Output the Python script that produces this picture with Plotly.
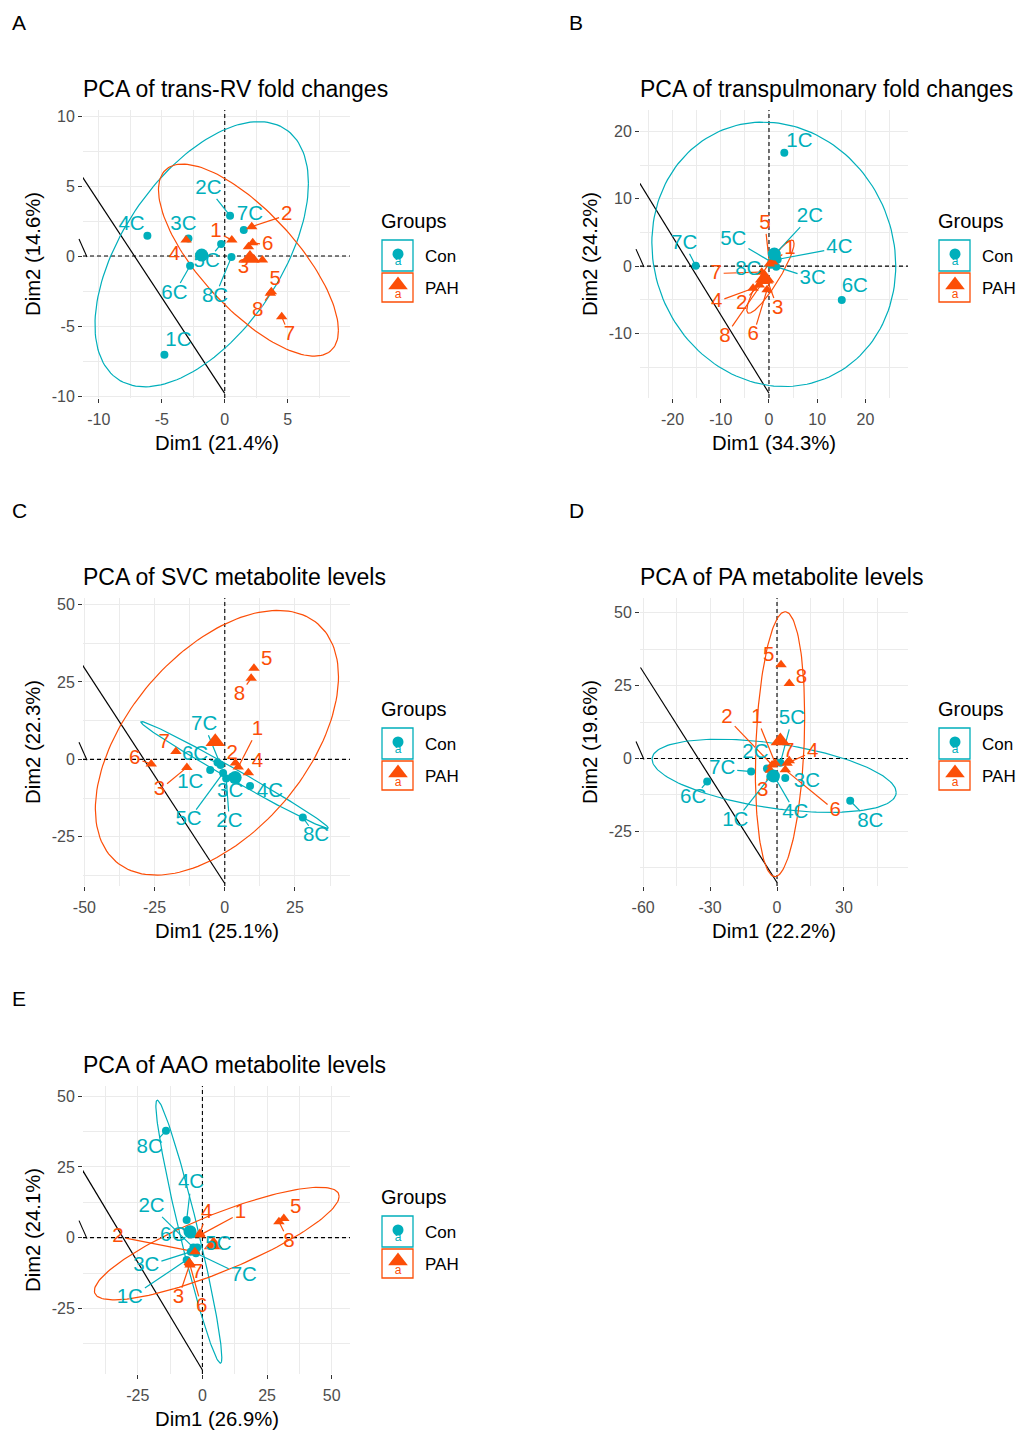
import math
import numpy as np
import plotly.graph_objects as go

W, H = 1025, 1435          # target screen size
SHIFT = 8                  # page body margin: figure starts at (8, 8) on screen
FW = W - SHIFT
FH = H - SHIFT
TEAL = "#00AFBB"
ORANGE = "#FC4E07"
FONT = "Liberation Sans, Arial, sans-serif"
LAB_FS = 20.5

# ------------------------------------------------------------------ data
GROUPS = ["Con", "PAH"]
CON_LAB = ["1C", "2C", "3C", "4C", "5C", "6C", "7C", "8C"]
PAH_LAB = ["1", "2", "3", "4", "5", "6", "7", "8"]

# ---- A: trans-RV fold changes
A_title = "PCA of trans-RV fold changes"
A_dims = ["Dim1 (21.4%)", "Dim2 (14.6%)"]
A_con_x = [-4.79, 0.42, -2.88, -6.14, -0.29, -2.75, 1.51, 0.53]
A_con_y = [-7.05, 2.88, 1.26, 1.45, 0.86, -0.69, 1.86, -0.07]
A_con_lx = [-3.68, -1.30, -3.28, -7.40, -1.43, -4.00, 2.00, -0.77]
A_con_ly = [-6.05, 4.83, 2.26, 2.20, -0.40, -2.67, 2.93, -2.90]
A_pah_x = [0.56, 2.14, 1.85, -3.07, 3.70, 2.22, 4.52, 3.62]
A_pah_y = [1.14, 2.10, -0.15, 1.14, -2.55, 0.95, -4.33, -2.65]
A_pah_lx = [-0.69, 4.92, 1.48, -4.00, 4.00, 3.41, 5.13, 2.62]
A_pah_ly = [1.74, 2.93, -0.88, 0.07, -1.67, 0.79, -5.64, -3.93]
A_extra_x = [1.88, 2.99, 2.30]
A_extra_y = [0.67, -0.29, -0.20]
A_mean_x = [-1.83, 2.00]
A_mean_y = [0.07, -0.17]
A_ell_con = [-1.83, 0.13, 8.47, 9.47, 57.7]
A_ell_pah = [1.88, -0.29, 7.14, 6.86, 137.0]
A_line_x = [-11.48, 0.0]
A_line_y = [5.90, -9.81]

# ---- B: transpulmonary fold changes
B_title = "PCA of transpulmonary fold changes"
B_dims = ["Dim1 (34.3%)", "Dim2 (24.2%)"]
B_con_x = [3.18, 1.40, 1.50, 1.80, 0.50, 15.10, -15.20, 0.40]
B_con_y = [16.83, 1.90, -0.10, 1.00, 0.60, -5.05, 0.05, 0.20]
B_con_lx = [6.30, 8.50, 9.06, 14.60, -7.40, 17.80, -17.60, -4.30]
B_con_ly = [18.50, 7.33, -1.83, 2.72, 3.96, -3.07, 3.37, -0.60]
B_pah_x = [0.80, -2.00, -0.30, -3.30, 0.10, -0.40, -1.50, -1.20]
B_pah_y = [0.60, -2.80, -2.20, -3.30, 0.30, -3.50, -0.90, -2.30]
B_pah_lx = [4.36, -5.67, 1.80, -10.86, -0.83, -3.25, -11.00, -9.13]
B_pah_ly = [2.62, -5.54, -6.29, -5.30, 6.34, -10.25, -1.09, -10.50]
B_extra_x = []
B_extra_y = []
B_mean_x = [1.10, -0.90]
B_mean_y = [1.80, -1.80]
B_ell_con = [1.00, 1.75, 25.30, 19.65, 95.0]
B_ell_pah = [0.30, -1.57, 4.90, 5.43, 25.0]
B_line_x = [-26.8, 0.0]
B_line_y = [12.3, -18.9]

# ---- C: SVC metabolite levels
C_title = "PCA of SVC metabolite levels"
C_dims = ["Dim1 (25.1%)", "Dim2 (22.3%)"]
C_con_x = [-5.20, 0.50, 2.60, 9.00, -0.60, -2.60, -1.50, 27.80]
C_con_y = [-3.45, -6.20, -5.60, -8.60, -4.40, -1.00, -1.80, -18.75]
C_con_lx = [-12.3, 1.66, 1.90, 16.10, -12.90, -10.60, -7.35, 32.50]
C_con_ly = [-7.76, -20.20, -10.50, -10.50, -19.60, 1.40, 11.10, -24.80]
C_pah_x = [4.80, 3.80, -13.50, 8.40, 10.40, -26.20, -17.40, 9.40]
C_pah_y = [-2.50, -1.20, -2.60, -4.30, 29.40, -1.50, 2.50, 26.20]
C_pah_lx = [11.60, 2.60, -23.30, 11.60, 14.90, -32.10, -21.60, 5.20]
C_pah_ly = [9.50, 1.90, -9.90, -0.75, 32.10, 0.30, 5.20, 20.80]
C_extra_x = []
C_extra_y = []
C_mean_x = [3.70, -3.40]
C_mean_y = [-5.90, 5.70]
C_ell_con = [3.50, -5.05, 33.40, 17.25, 173.0]
C_ell_pah = [-2.80, 5.35, 43.30, 42.75, 60.0]
C_line_x = [-51.5, 0.0]
C_line_y = [31.6, -40.1]

# ---- D: PA metabolite levels
D_title = "PCA of PA metabolite levels"
D_dims = ["Dim1 (22.2%)", "Dim2 (19.6%)"]
D_con_x = [-3.00, -4.50, 3.70, -0.80, 1.50, -31.30, -11.60, 32.80]
D_con_y = [-6.20, -3.40, -6.70, -6.70, -1.50, -7.90, -4.50, -14.50]
D_con_lx = [-18.70, -9.70, 13.40, 8.20, 6.70, -37.60, -24.60, 41.80]
D_con_ly = [-21.30, 2.05, -7.90, -18.50, 13.50, -13.60, -3.65, -21.60]
D_pah_x = [-0.80, -2.20, -3.00, 4.50, 1.80, 3.70, 5.50, 5.50]
D_pah_y = [-1.60, -2.20, -4.00, -1.60, 32.10, -3.90, -0.80, 25.70]
D_pah_lx = [-9.00, -22.40, -6.40, 16.00, -3.70, 26.10, 5.20, 10.90]
D_pah_ly = [13.80, 13.80, -11.10, 2.30, 35.20, -17.90, 2.30, 27.50]
D_extra_x = []
D_extra_y = []
D_mean_x = [-1.60, 1.50]
D_mean_y = [-6.00, 6.00]
D_ell_con = [-1.30, -5.95, 54.70, 12.55, 117.0]
D_ell_pah = [1.35, 4.90, 11.05, 45.40, 78.0]
D_line_x = [-61.2, 0.0]
D_line_y = [31.2, -42.5]

# ---- E: AAO metabolite levels
E_title = "PCA of AAO metabolite levels"
E_dims = ["Dim1 (26.9%)", "Dim2 (24.1%)"]
E_con_x = [-6.10, -3.50, -4.50, -6.10, -2.00, -3.80, -2.50, -14.10]
E_con_y = [-7.90, -3.50, -5.00, 6.20, -3.50, 1.20, -5.50, 37.80]
E_con_lx = [-28.10, -19.70, -21.70, -4.40, 6.20, -11.30, 16.00, -20.40]
E_con_ly = [-21.40, 11.00, -10.00, 19.20, -2.40, 0.60, -13.50, 31.60]
E_pah_x = [-0.90, -2.90, -4.80, -1.00, 31.50, -4.80, -5.10, 29.60]
E_pah_y = [0.90, -5.00, -9.10, 1.50, 6.80, -9.70, -8.80, 5.65]
E_pah_lx = [14.70, -32.70, -9.30, 1.70, 36.10, -0.30, -1.90, 33.50]
E_pah_ly = [8.60, 0.35, -21.40, 8.60, 10.40, -24.40, -12.60, -1.40]
E_extra_x = []
E_extra_y = []
E_mean_x = [-4.80, 4.30]
E_mean_y = [2.10, -2.60]
E_ell_con = [-5.25, 2.10, 12.75, 46.50, 163.0]
E_ell_pah = [5.55, -2.10, 47.35, 19.90, 33.0]
E_line_x = [-47.6, 0.0]
E_line_y = [25.7, -46.8]

# ------------------------------------------------------------------ geometry (screen pixel layout)
PANELS = [
    dict(letter="A", title=A_title, dims=A_dims,
         con=(A_con_x, A_con_y, A_con_lx, A_con_ly), pah=(A_pah_x, A_pah_y, A_pah_lx, A_pah_ly),
         extra=(A_extra_x, A_extra_y), mean=(A_mean_x, A_mean_y), ell=(A_ell_con, A_ell_pah),
         line=(A_line_x, A_line_y),
         box=(83, 350, 110, 398), xr=(-11.25, 9.94), yr=(-10.14, 10.43),
         xt=[-10, -5, 0, 5], yt=[-10, -5, 0, 5, 10],
         xm=[-7.5, -2.5, 2.5, 7.5], ym=[-7.5, -2.5, 2.5, 7.5], off=(0, 0)),
    dict(letter="B", title=B_title, dims=B_dims,
         con=(B_con_x, B_con_y, B_con_lx, B_con_ly), pah=(B_pah_x, B_pah_y, B_pah_lx, B_pah_ly),
         extra=(B_extra_x, B_extra_y), mean=(B_mean_x, B_mean_y), ell=(B_ell_con, B_ell_pah),
         line=(B_line_x, B_line_y),
         box=(640, 908, 110, 398), xr=(-26.76, 28.84), yr=(-19.6, 23.2),
         xt=[-20, -10, 0, 10, 20], yt=[-10, 0, 10, 20],
         xm=[-25, -15, -5, 5, 15, 25], ym=[-15, -5, 5, 15], off=(557, 0)),
    dict(letter="C", title=C_title, dims=C_dims,
         con=(C_con_x, C_con_y, C_con_lx, C_con_ly), pah=(C_pah_x, C_pah_y, C_pah_lx, C_pah_ly),
         extra=(C_extra_x, C_extra_y), mean=(C_mean_x, C_mean_y), ell=(C_ell_con, C_ell_pah),
         line=(C_line_x, C_line_y),
         box=(83, 350, 598, 886), xr=(-50.5, 44.6), yr=(-40.9, 52.1),
         xt=[-50, -25, 0, 25], yt=[-25, 0, 25, 50],
         xm=[-37.5, -12.5, 12.5, 37.5], ym=[-37.5, -12.5, 12.5, 37.5], off=(0, 488)),
    dict(letter="D", title=D_title, dims=D_dims,
         con=(D_con_x, D_con_y, D_con_lx, D_con_ly), pah=(D_pah_x, D_pah_y, D_pah_lx, D_pah_ly),
         extra=(D_extra_x, D_extra_y), mean=(D_mean_x, D_mean_y), ell=(D_ell_con, D_ell_pah),
         line=(D_line_x, D_line_y),
         box=(640, 908, 598, 886), xr=(-61.4, 58.7), yr=(-43.7, 55.0),
         xt=[-60, -30, 0, 30], yt=[-25, 0, 25, 50],
         xm=[-45, -15, 15, 45], ym=[-37.5, -12.5, 12.5, 37.5], off=(557, 488)),
    dict(letter="E", title=E_title, dims=E_dims,
         con=(E_con_x, E_con_y, E_con_lx, E_con_ly), pah=(E_pah_x, E_pah_y, E_pah_lx, E_pah_ly),
         extra=(E_extra_x, E_extra_y), mean=(E_mean_x, E_mean_y), ell=(E_ell_con, E_ell_pah),
         line=(E_line_x, E_line_y),
         box=(83, 350, 1086, 1374), xr=(-46.2, 57.1), yr=(-48.2, 53.6),
         xt=[-25, 0, 25, 50], yt=[-25, 0, 25, 50],
         xm=[-37.5, -12.5, 12.5, 37.5], ym=[-37.5, -12.5, 12.5, 37.5], off=(0, 976)),
]


def to_px(p, x, y):
    l, r, t, b = p["box"]
    x0, x1 = p["xr"]
    y0, y1 = p["yr"]
    return l + (x - x0) / (x1 - x0) * (r - l), b - (y - y0) / (y1 - y0) * (b - t)


def to_data(p, px, py):
    l, r, t, b = p["box"]
    x0, x1 = p["xr"]
    y0, y1 = p["yr"]
    return x0 + (px - l) / (r - l) * (x1 - x0), y0 + (b - py) / (b - t) * (y1 - y0)


def text_w(s, fs):
    return sum(0.722 if c == "C" else 0.556 for c in s) * fs


def ellipse(c):
    cx, cy, rx, ry, phi = c
    t = np.linspace(0, 2 * np.pi, 161)
    return cx + rx * np.cos(t), cy + ry * np.cos(t - np.radians(phi))


def repel_segments(p, labs, xs, ys, lxs, lys):
    sx, sy = [], []
    for lab, x, y, lx, ly in zip(labs, xs, ys, lxs, lys):
        Px, Py = to_px(p, x, y)
        Lx, Ly = to_px(p, lx, ly)
        hw = text_w(lab, LAB_FS) / 2 + 2
        hh = 0.72 * LAB_FS / 2 + 3
        dx, dy = Px - Lx, Py - Ly
        if abs(dx) <= hw and abs(dy) <= hh:
            continue
        t = min(hw / abs(dx) if dx else 1e9, hh / abs(dy) if dy else 1e9)
        Ex, Ey = Lx + dx * t, Ly + dy * t
        d = math.hypot(Px - Ex, Py - Ey)
        if d < 7:
            continue
        k = (d - 2) / d
        Qx, Qy = Ex + (Px - Ex) * k, Ey + (Py - Ey) * k
        a = to_data(p, Ex, Ey)
        b = to_data(p, Qx, Qy)
        sx += [a[0], b[0], None]
        sy += [a[1], b[1], None]
    return sx, sy


fig = go.Figure()
layout_axes = {}
shapes = []
annotations = []

for i, p in enumerate(PANELS):
    xa = "x" if i == 0 else f"x{i + 1}"
    ya = "y" if i == 0 else f"y{i + 1}"
    l, r, t, b = p["box"]
    common = dict(showgrid=True, gridcolor="#EBEBEB", gridwidth=1.1, zeroline=False, showline=False,
                  ticks="outside", ticklen=4, tickwidth=1, tickcolor="#333333", automargin=False,
                  tickfont=dict(family=FONT, size=16, color="#4D4D4D"), fixedrange=True)
    layout_axes["xaxis" if i == 0 else f"xaxis{i + 1}"] = dict(
        domain=[(l - SHIFT) / FW, (r - SHIFT) / FW], range=list(p["xr"]), anchor=ya,
        tickmode="array", tickvals=p["xt"], ticktext=[str(v) for v in p["xt"]], ticklabelstandoff=3,
        minor=dict(tickmode="array", tickvals=p["xm"], showgrid=True, gridcolor="#EBEBEB", gridwidth=0.6, ticks=""),
        **common)
    layout_axes["yaxis" if i == 0 else f"yaxis{i + 1}"] = dict(
        domain=[1 - (b - SHIFT) / FH, 1 - (t - SHIFT) / FH], range=list(p["yr"]), anchor=xa,
        tickmode="array", tickvals=p["yt"], ticktext=[str(v) for v in p["yt"]],
        minor=dict(tickmode="array", tickvals=p["ym"], showgrid=True, gridcolor="#EBEBEB", gridwidth=0.6, ticks=""),
        **common)

    fig.add_trace(go.Scatter(x=[0, 0, None, p["xr"][0], p["xr"][1]],
                             y=[p["yr"][0], p["yr"][1], None, 0, 0],
                             mode="lines", line=dict(color="black", width=1.1, dash="4px,3px"),
                             xaxis=xa, yaxis=ya, hoverinfo="skip", showlegend=False))
    fig.add_trace(go.Scatter(x=p["line"][0], y=p["line"][1], mode="lines",
                             line=dict(color="black", width=1.2), xaxis=xa, yaxis=ya,
                             hoverinfo="skip", showlegend=False))
    for ell, col in zip(p["ell"], [TEAL, ORANGE]):
        ex, ey = ellipse(ell)
        fig.add_trace(go.Scatter(x=ex, y=ey, mode="lines", line=dict(color=col, width=1.2),
                                 xaxis=xa, yaxis=ya, hoverinfo="skip", showlegend=False))
    for labs, dat, col in [(CON_LAB, p["con"], TEAL), (PAH_LAB, p["pah"], ORANGE)]:
        sx, sy = repel_segments(p, labs, *dat)
        fig.add_trace(go.Scatter(x=sx, y=sy, mode="lines", line=dict(color=col, width=1.2),
                                 xaxis=xa, yaxis=ya, hoverinfo="skip", showlegend=False))
    fig.add_trace(go.Scatter(x=p["con"][0], y=p["con"][1], mode="markers",
                             marker=dict(symbol="circle", size=8, color=TEAL),
                             xaxis=xa, yaxis=ya, name="Con", showlegend=False))
    px_ = list(p["pah"][0]) + list(p["extra"][0])
    py_ = list(p["pah"][1]) + list(p["extra"][1])
    fig.add_trace(go.Scatter(x=px_, y=py_, mode="markers",
                             marker=dict(symbol="triangle-up", size=10, color=ORANGE),
                             xaxis=xa, yaxis=ya, name="PAH", showlegend=False))
    fig.add_trace(go.Scatter(x=[p["mean"][0][0]], y=[p["mean"][1][0]], mode="markers",
                             marker=dict(symbol="circle", size=13, color=TEAL),
                             xaxis=xa, yaxis=ya, showlegend=False, hoverinfo="skip"))
    fig.add_trace(go.Scatter(x=[p["mean"][0][1]], y=[p["mean"][1][1]], mode="markers",
                             marker=dict(symbol="triangle-up", size=17, color=ORANGE),
                             xaxis=xa, yaxis=ya, showlegend=False, hoverinfo="skip"))
    for labs, dat, col in [(CON_LAB, p["con"], TEAL), (PAH_LAB, p["pah"], ORANGE)]:
        fig.add_trace(go.Scatter(x=dat[2], y=dat[3], mode="text", text=labs,
                                 textposition="middle center", cliponaxis=False,
                                 textfont=dict(family=FONT, size=LAB_FS, color=col),
                                 xaxis=xa, yaxis=ya, hoverinfo="skip", showlegend=False))

# ------------------------------------------------------------------ overlay axis in screen pixels
OX, OY = "x6", "y6"
layout_axes["xaxis6"] = dict(domain=[0, 1], range=[SHIFT, SHIFT + FW], visible=False, fixedrange=True,
                             anchor="y6", automargin=False)
layout_axes["yaxis6"] = dict(domain=[0, 1], range=[SHIFT + FH, SHIFT], visible=False, fixedrange=True,
                             anchor="x6", automargin=False)

PAD = 2  # annotation text box padding
for i, p in enumerate(PANELS):
    ox, oy = p["off"]
    l, r, t, b = p["box"]
    annotations.append(dict(xref=OX, yref=OY, x=12 - PAD + ox, y=22 + oy, text=p["letter"], showarrow=False,
                            xanchor="left", yanchor="middle", font=dict(family=FONT, size=21, color="black")))
    annotations.append(dict(xref=OX, yref=OY, x=l - PAD, y=89 + oy, text=p["title"], showarrow=False,
                            xanchor="left", yanchor="middle", font=dict(family=FONT, size=23, color="black")))
    annotations.append(dict(xref=OX, yref=OY, x=(l + r) / 2, y=b + 45, text=p["dims"][0],
                            showarrow=False, xanchor="center", yanchor="middle",
                            font=dict(family=FONT, size=20.3, color="black")))
    annotations.append(dict(xref=OX, yref=OY, x=33 + ox, y=(t + b) / 2, text=p["dims"][1], showarrow=False,
                            textangle=-90, xanchor="center", yanchor="middle",
                            font=dict(family=FONT, size=20.3, color="black")))
    annotations.append(dict(xref=OX, yref=OY, x=381 - PAD + ox, y=221 + oy, text="Groups", showarrow=False,
                            xanchor="left", yanchor="middle", font=dict(family=FONT, size=20, color="black")))
    for k, (g, col, y0, y1) in enumerate([("Con", TEAL, 240, 271), ("PAH", ORANGE, 273, 302)]):
        shapes.append(dict(type="rect", xref=OX, yref=OY, x0=382 + ox, x1=413 + ox, y0=y0 + oy, y1=y1 + oy,
                           line=dict(color=col, width=1.3), fillcolor="rgba(0,0,0,0)"))
        annotations.append(dict(xref=OX, yref=OY, x=425 - PAD + ox, y=(y0 + y1) / 2 + 1 + oy, text=g,
                                showarrow=False, xanchor="left", yanchor="middle",
                                font=dict(family=FONT, size=17, color="black")))
    y0px = to_px(p, 0, 0)[1]
    fig.add_trace(go.Scatter(x=[l - 4, l + 4], y=[y0px - 17, y0px + 1], mode="lines",
                             line=dict(color="black", width=1.1), xaxis=OX, yaxis=OY,
                             hoverinfo="skip", showlegend=False))
    fig.add_trace(go.Scatter(x=[398 + ox], y=[254 + oy], mode="markers",
                             marker=dict(symbol="circle", size=11, color=TEAL),
                             xaxis=OX, yaxis=OY, hoverinfo="skip", showlegend=False))
    fig.add_trace(go.Scatter(x=[398 + ox], y=[285 + oy], mode="markers",
                             marker=dict(symbol="triangle-up", size=17, color=ORANGE),
                             xaxis=OX, yaxis=OY, hoverinfo="skip", showlegend=False))
    fig.add_trace(go.Scatter(x=[398 + ox, 398 + ox], y=[262 + oy, 295 + oy], mode="text", text=["a", "a"],
                             textfont=dict(family=FONT, size=12, color=[TEAL, ORANGE]),
                             xaxis=OX, yaxis=OY, hoverinfo="skip", showlegend=False, cliponaxis=False))

fig.update_layout(width=FW, height=FH, autosize=False, margin=dict(l=0, r=0, t=0, b=0, pad=0),
                  paper_bgcolor="white", plot_bgcolor="rgba(0,0,0,0)", showlegend=False,
                  shapes=shapes, annotations=annotations, font=dict(family=FONT),
                  **layout_axes)
fig.write_html("out.html", config={"displayModeBar": False})
